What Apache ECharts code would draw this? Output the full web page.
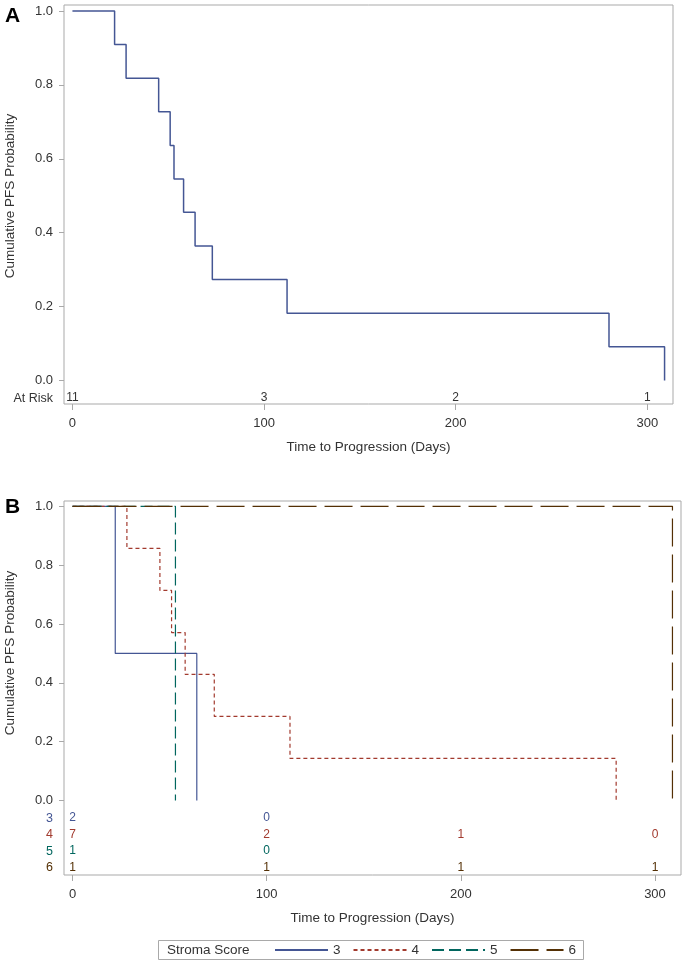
<!DOCTYPE html>
<html>
<head>
<meta charset="utf-8">
<script src="https://cdn.jsdelivr.net/npm/echarts@6/dist/echarts.min.js"></script>
<style>
html,body{margin:0;padding:0;background:#fff;}
#c{width:685px;height:963px;}
</style>
</head>
<body>
<div id="c"></div>
<script>
// ---------- data ----------
const yTicks = [0, 0.2, 0.4, 0.6, 0.8, 1.0];
const xTicks = [0, 100, 200, 300];

// Panel A: all patients
const timesA = [0, 22, 28, 45, 51, 53, 58, 64, 73, 112, 280, 309];
const survA  = [1, 0.909, 0.818, 0.727, 0.636, 0.545, 0.455, 0.364, 0.273, 0.182, 0.091, 0];
const atRiskA = [11, 3, 2, 1];

// Panel B: by stroma score
const groups = ['3', '4', '5', '6'];
const times3 = [0, 22, 64];
const surv3  = [1, 0.5, 0];
const times4 = [0, 28, 45, 51, 58, 73, 112, 280];
const surv4  = [1, 0.857, 0.714, 0.571, 0.429, 0.286, 0.143, 0];
const times5 = [0, 53];
const surv5  = [1, 0];
const times6 = [0, 309];
const surv6  = [1, 0];
const atRisk3 = [2, 0, null, null];
const atRisk4 = [7, 2, 1, 0];
const atRisk5 = [1, 0, null, null];
const atRisk6 = [1, 1, 1, 1];

// ---------- styles ----------
const FONT = 'Liberation Sans, Arial, sans-serif';
const colors = ['#445694', '#A23A2E', '#01665E', '#543005'];
const dashes = ['solid', [4, 3], [12, 5], [28, 8]];
const frameColor = '#a9a9a9';
const textColor = '#333333';

function pairs(t, s) { return t.map((v, i) => [v, s[i]]); }

function xAxisCfg(gridIndex) {
  return {
    type: 'value', gridIndex, min: -4.4, max: 313.4,
    axisLine: { show: false, onZero: false },
    axisTick: { show: true, inside: false, customValues: xTicks, length: 6, lineStyle: { color: frameColor } },
    axisLabel: { show: true, customValues: xTicks, margin: 13, color: textColor, fontFamily: FONT, fontSize: 13 },
    splitLine: { show: false },
    name: 'Time to Progression (Days)', nameLocation: 'middle', nameGap: 36,
    nameTextStyle: { color: textColor, fontFamily: FONT, fontSize: 13.5 }
  };
}
function yAxisCfg(gridIndex, min, max) {
  return {
    type: 'value', gridIndex, min, max,
    axisLine: { show: false, onZero: false },
    axisTick: { show: true, inside: false, customValues: yTicks, length: 5, lineStyle: { color: frameColor } },
    axisLabel: { show: true, customValues: yTicks, margin: 11, color: textColor, fontFamily: FONT, fontSize: 13,
      formatter: v => v.toFixed(1) },
    splitLine: { show: false }
  };
}

function atRiskSeries(xi, yi, counts, offset, color) {
  const data = [];
  xTicks.forEach((t, i) => { if (counts[i] !== null) data.push([t, counts[i]]); });
  return {
    type: 'custom', xAxisIndex: xi, yAxisIndex: yi, data, silent: true, z: 5,
    encode: { x: 0 },
    renderItem: (params, api) => {
      const p = api.coord([api.value(0), 0]);
      return { type: 'text', x: p[0], y: p[1] + offset,
        style: { text: String(api.value(1)), fill: color, font: '12px ' + FONT, align: 'center', verticalAlign: 'middle' } };
    }
  };
}

const bTimes = [times3, times4, times5, times6];
const bSurv = [surv3, surv4, surv5, surv6];
const bRisk = [atRisk3, atRisk4, atRisk5, atRisk6];
const rowOffsets = [17.5, 34, 50.5, 67];

const series = [];
series.push({
  name: 'All', type: 'line', xAxisIndex: 0, yAxisIndex: 0, step: 'end', symbol: 'none',
  data: pairs(timesA, survA), lineStyle: { color: colors[0], width: 1.5 }, itemStyle: { color: colors[0] }
});
series.push(atRiskSeries(0, 0, atRiskA, 17.5, textColor));
groups.forEach((g, i) => {
  series.push({
    name: g, type: 'line', xAxisIndex: 1, yAxisIndex: 1, step: 'end', symbol: 'none',
    data: pairs(bTimes[i], bSurv[i]),
    lineStyle: { color: colors[i], width: 1.2, type: dashes[i] }, itemStyle: { color: colors[i] }
  });
});
groups.forEach((g, i) => series.push(atRiskSeries(1, 1, bRisk[i], rowOffsets[i], colors[i])));

const graphics = [
  { type: 'text', left: 5, top: 6, style: { text: 'A', font: 'bold 21px ' + FONT, fill: '#000' } },
  { type: 'text', left: 5, top: 497, style: { text: 'B', font: 'bold 21px ' + FONT, fill: '#000' } },
  { type: 'text', x: 10, y: 196, rotation: Math.PI / 2,
    style: { text: 'Cumulative PFS Probability', font: '13.5px ' + FONT, fill: textColor, align: 'center', verticalAlign: 'middle' } },
  { type: 'text', x: 10, y: 653, rotation: Math.PI / 2,
    style: { text: 'Cumulative PFS Probability', font: '13.5px ' + FONT, fill: textColor, align: 'center', verticalAlign: 'middle' } },
  { type: 'text', x: 53, y: 398.3, style: { text: 'At Risk', font: '12.5px ' + FONT, fill: textColor, align: 'right', verticalAlign: 'middle' } },
  { type: 'rect', shape: { x: 158.5, y: 940.5, width: 425, height: 19 }, style: { fill: 'none', stroke: frameColor, lineWidth: 1 } },
  { type: 'text', x: 167, y: 950, style: { text: 'Stroma Score', font: '13.5px ' + FONT, fill: textColor, verticalAlign: 'middle' } }
];
groups.forEach((g, i) => graphics.push({
  type: 'text', x: 53, y: 800.7 + rowOffsets[i],
  style: { text: g, font: '12.5px ' + FONT, fill: colors[i], align: 'right', verticalAlign: 'middle' }
}));

const chart = echarts.init(document.getElementById('c'), null, { renderer: 'canvas' });
chart.setOption({
  animation: false,
  backgroundColor: '#fff',
  grid: [
    { left: 64, top: 5, width: 609, height: 399, show: true, borderColor: frameColor, borderWidth: 1, backgroundColor: 'transparent' },
    { left: 64, top: 501, width: 617, height: 374, show: true, borderColor: frameColor, borderWidth: 1, backgroundColor: 'transparent' }
  ],
  xAxis: [xAxisCfg(0), xAxisCfg(1)],
  yAxis: [yAxisCfg(0, -0.0638, 1.0162), yAxisCfg(1, -0.253, 1.018)],
  legend: {
    data: groups, left: 274, top: 943, padding: 0, itemWidth: 53, itemHeight: 14, itemGap: 12,
    itemStyle: { opacity: 0 },
    textStyle: { color: textColor, fontFamily: FONT, fontSize: 13.5, padding: 0 },
    selectedMode: false
  },
  graphic: graphics,
  series
});
</script>
</body>
</html>
